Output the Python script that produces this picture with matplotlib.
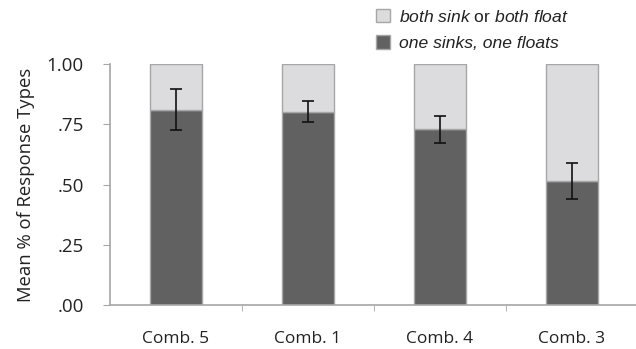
import matplotlib.pyplot as plt
from matplotlib.patches import Patch

# values
combos = ['Comb. 5', 'Comb. 1', 'Comb. 4', 'Comb. 3']
one_sinks = [0.81, 0.80, 0.73, 0.515]
err_hi = [0.895, 0.848, 0.785, 0.590]
err_lo = [0.726, 0.761, 0.673, 0.438]
yticks = [0, 0.25, 0.5, 0.75, 1.0]
ytick_labels = ['.00', '.25', '.50', '.75', '1.00']

dark = '#616161'
light = '#dcdcde'
edge = '#a6a6a6'

plt.rcParams['font.family'] = ['Open Sans', 'DejaVu Sans']
plt.rcParams['mathtext.fontset'] = 'custom'
plt.rcParams['mathtext.rm'] = 'Liberation Sans'
plt.rcParams['mathtext.it'] = 'Liberation Sans:italic'

fig = plt.figure(figsize=(6.36, 3.49), dpi=100)
ax = fig.add_axes([110 / 636, 44 / 349, 528 / 636, 241 / 349])

x = list(range(len(combos)))
both = [1 - v for v in one_sinks]
ax.bar(x, one_sinks, width=0.4, color=dark, edgecolor=edge, linewidth=1)
ax.bar(x, both, bottom=one_sinks, width=0.4, color=light, edgecolor=edge, linewidth=1)

mid = [(h + l) / 2 for h, l in zip(err_hi, err_lo)]
half = [(h - l) / 2 for h, l in zip(err_hi, err_lo)]
ax.errorbar(x, mid, yerr=half, fmt='none', ecolor='#111111', elinewidth=1.2,
            capsize=4.5, capthick=1.2)

ax.set_xlim(-0.5, 3.5)
ax.set_ylim(0, 1.0)
ax.set_yticks(yticks)
ax.set_yticklabels(ytick_labels, fontsize=13.5, color='#222222')
ax.set_xticks(x)
ax.set_xticklabels(combos, fontsize=12.5, color='#222222')
ax.set_xticks([0.5, 1.5, 2.5], minor=True)
ax.tick_params(axis='x', which='major', length=0, pad=19)
ax.tick_params(axis='x', which='minor', length=4, color=edge, direction='out')
ax.tick_params(axis='y', length=5, color=edge, pad=14)
ax.set_ylabel('Mean % of Response Types', fontsize=13.3, color='#222222', labelpad=8)

for s in ['top', 'right']:
    ax.spines[s].set_visible(False)
for s in ['left', 'bottom']:
    ax.spines[s].set_color(edge)
    ax.spines[s].set_linewidth(1.2)

handles = [Patch(facecolor=light, edgecolor=edge, label='both sink or both float'),
           Patch(facecolor=dark, edgecolor=edge, label='one sinks, one floats')]
leg = fig.legend(handles=handles, loc='upper left', bbox_to_anchor=(360 / 636, 1.02),
                 frameon=False, handlelength=0.8, handleheight=0.8, handletextpad=0.55,
                 labelspacing=0.6, prop={'family': 'Liberation Sans', 'style': 'italic', 'size': 12.6})
texts = leg.get_texts()
texts[0].set_text('$\\it{both\\ sink}$ or $\\it{both\\ float}$')
texts[0].set_fontstyle('normal')
for t in texts:
    t.set_color('#222222')

fig.savefig('out.png', dpi=100)
